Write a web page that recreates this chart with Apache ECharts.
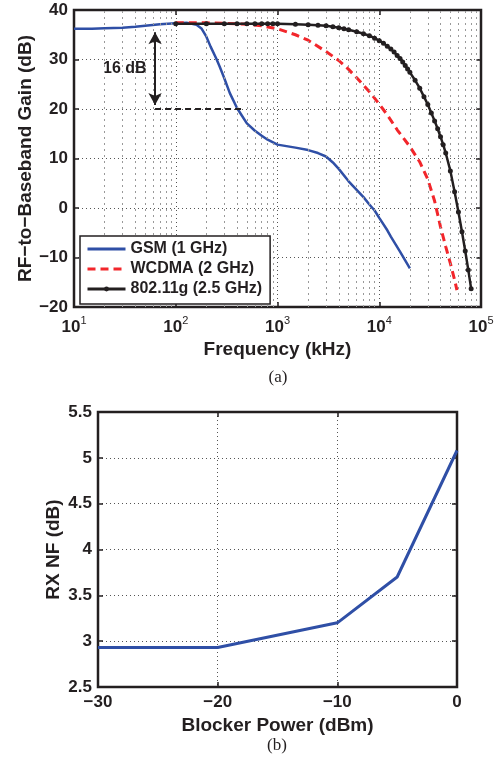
<!DOCTYPE html>
<html>
<head>
<meta charset="utf-8">
<script src="https://cdn.jsdelivr.net/npm/echarts@6/dist/echarts.min.js"></script>
<style>
html, body { margin: 0; padding: 0; background: #fff; }
#chart { width: 497px; height: 758px; }
</style>
</head>
<body>
<div id="chart"></div>
<script>
// (a) RF-to-baseband gain, frequency in kHz, gain in dB
var gsmFreq = [10, 15, 20, 30, 40, 50, 70, 100, 130, 160, 180, 200, 220, 250, 270, 300, 340, 400, 430, 500, 600, 700, 800, 1000, 1500, 2000, 2500, 3000, 3500, 4000, 5000, 7000, 8000, 9000, 10000, 12000, 13000, 16000, 20000];
var gsmGain = [36.2, 36.2, 36.3, 36.4, 36.6, 36.8, 37.1, 37.3, 37.4, 37.0, 36.2, 34.6, 32.6, 30.2, 28.6, 26.2, 23.2, 20.2, 19.2, 17.1, 15.6, 14.6, 13.8, 12.8, 12.2, 11.7, 11.1, 10.4, 9.2, 7.9, 5.4, 2.2, 0.7, -0.5, -2.0, -4.5, -5.8, -8.8, -12.2];

var wcdmaFreq = [100, 150, 200, 300, 500, 700, 1000, 1500, 2000, 3000, 4000, 5000, 6000, 8000, 10000, 12000, 15000, 20000, 25000, 30000, 35000, 40000, 45000, 50000, 55000, 58000];
var wcdmaGain = [37.4, 37.4, 37.4, 37.3, 37.1, 36.8, 36.2, 35.0, 33.9, 31.6, 29.8, 28.0, 26.3, 23.5, 21.0, 18.8, 15.8, 12.4, 9.3, 5.8, 1.4, -3.8, -7.8, -11.2, -14.5, -16.6];

var wlanFreq = [100, 200, 300, 400, 500, 600, 700, 800, 900, 1000, 1500, 2000, 2500, 3000, 3500, 4000, 4500, 5000, 6000, 7000, 8000, 9000, 10000, 11000, 12000, 13000, 14000, 15000, 16000, 17000, 18000, 19000, 20000, 22500, 25000, 27500, 30000, 32500, 35000, 37500, 40000, 42500, 45000, 50000, 55000, 60000, 65000, 70000, 75000, 80000];
var wlanGain = [37.2, 37.2, 37.2, 37.2, 37.2, 37.2, 37.2, 37.2, 37.2, 37.2, 37.1, 37.0, 36.9, 36.8, 36.6, 36.4, 36.2, 36.0, 35.6, 35.2, 34.8, 34.3, 33.8, 33.3, 32.7, 32.1, 31.5, 30.8, 30.2, 29.5, 28.8, 28.1, 27.4, 25.8, 24.2, 22.5, 20.9, 19.2, 17.6, 16.0, 14.4, 12.8, 11.1, 7.5, 3.3, -0.8, -4.8, -8.7, -12.5, -16.3];

// (b) receiver noise figure vs blocker power
var blockerPower = [-30, -20, -10, -5, 0];
var rxNF = [2.93, 2.93, 3.2, 3.7, 5.08];

var seriesNames = ['GSM (1 GHz)', 'WCDMA (2 GHz)', '802.11g (2.5 GHz)'];

var ink = '#231f20';
var font = 'Liberation Sans, Arial, sans-serif';

function pairs(xs, ys) {
    return xs.map(function (x, i) { return [x, ys[i]]; });
}
function minus(v) {
    return String(v).replace('-', '\u2212');
}

// minor log grid at 2..9 x 10^k
var minorGrid = [];
for (var k = 1; k < 5; k++) {
    for (var m = 2; m < 10; m++) {
        minorGrid.push({ xAxis: m * Math.pow(10, k) });
    }
}

var tickStyle = { inside: true, length: 5, lineStyle: { color: ink, width: 1.5 } };
var noLine = { show: false, onZero: false };
var boldLabel = { color: ink, fontFamily: font, fontWeight: 'bold', fontSize: 17 };
var nameStyle = { color: ink, fontFamily: font, fontWeight: 'bold', fontSize: 19 };
var dotGrid = { show: true, lineStyle: { color: '#555', type: [1, 3], width: 1 } };

var chart = echarts.init(document.getElementById('chart'));

var option = {
    animation: false,
    backgroundColor: '#fff',
    grid: [
        { left: 74, top: 10, width: 407, height: 297, show: true, borderColor: ink, borderWidth: 2.5, z: 3 },
        { left: 98, top: 412, width: 359, height: 275, show: true, borderColor: ink, borderWidth: 2.5, z: 3 }
    ],
    legend: {
        data: [
            { name: seriesNames[0], itemStyle: { opacity: 0 }, lineStyle: { width: 3 } },
            { name: seriesNames[1], itemStyle: { opacity: 0 }, lineStyle: { width: 3 } },
            { name: seriesNames[2], lineStyle: { width: 3 } }
        ],
        orient: 'vertical',
        left: 80,
        top: 236,
        padding: [5, 8, 7, 6],
        itemGap: 4,
        itemWidth: 38,
        itemHeight: 6,
        backgroundColor: '#fff',
        borderColor: ink,
        borderWidth: 1.5,
        borderRadius: 0,
        z: 10,
        textStyle: { color: ink, fontFamily: font, fontWeight: 'bold', fontSize: 16 }
    },
    xAxis: [
        {
            gridIndex: 0, type: 'log', logBase: 10, min: 10, max: 100000, splitNumber: 4,
            axisLine: noLine,
            axisTick: tickStyle,
            axisLabel: {
                margin: 8,
                formatter: function (v) {
                    return '{b|10}{s|' + Math.round(Math.log10(v)) + '}';
                },
                rich: {
                    b: boldLabel,
                    s: { color: ink, fontFamily: font, fontSize: 11, padding: [0, 0, 13, 0] }
                }
            },
            splitLine: dotGrid,
            name: 'Frequency (kHz)', nameLocation: 'middle', nameGap: 33, nameMoveOverlap: false, nameTextStyle: nameStyle
        },
        {
            gridIndex: 0, type: 'log', logBase: 10, min: 10, max: 100000, splitNumber: 4, position: 'top',
            axisLine: noLine, axisTick: tickStyle, axisLabel: { show: false }, splitLine: { show: false }
        },
        {
            gridIndex: 1, type: 'value', min: -30, max: 0, interval: 10,
            axisLine: noLine,
            axisTick: tickStyle,
            axisLabel: Object.assign({ margin: 7, formatter: minus }, boldLabel),
            splitLine: dotGrid,
            name: 'Blocker Power (dBm)', nameLocation: 'middle', nameGap: 29, nameMoveOverlap: false, nameTextStyle: nameStyle
        },
        {
            gridIndex: 1, type: 'value', min: -30, max: 0, interval: 10, position: 'top',
            axisLine: noLine, axisTick: tickStyle, axisLabel: { show: false }, splitLine: { show: false }
        }
    ],
    yAxis: [
        {
            gridIndex: 0, type: 'value', min: -20, max: 40, interval: 10,
            axisLine: noLine,
            axisTick: tickStyle,
            axisLabel: Object.assign({ margin: 6, formatter: minus }, boldLabel),
            splitLine: dotGrid,
            name: 'RF\u2212to\u2212Baseband Gain (dB)', nameLocation: 'middle', nameGap: 39, nameMoveOverlap: false, nameTextStyle: nameStyle
        },
        {
            gridIndex: 0, type: 'value', min: -20, max: 40, interval: 10, position: 'right',
            axisLine: noLine, axisTick: tickStyle, axisLabel: { show: false }, splitLine: { show: false }
        },
        {
            gridIndex: 1, type: 'value', min: 2.5, max: 5.5, interval: 0.5,
            axisLine: noLine,
            axisTick: tickStyle,
            axisLabel: Object.assign({ margin: 6 }, boldLabel),
            splitLine: dotGrid,
            name: 'RX NF (dB)', nameLocation: 'middle', nameGap: 35, nameMoveOverlap: false, nameTextStyle: nameStyle
        },
        {
            gridIndex: 1, type: 'value', min: 2.5, max: 5.5, interval: 0.5, position: 'right',
            axisLine: noLine, axisTick: tickStyle, axisLabel: { show: false }, splitLine: { show: false }
        }
    ],
    graphic: [
        { type: 'text', x: 103, y: 61, style: { text: '16 dB', fill: ink, font: 'bold 16px ' + font } },
        { type: 'text', x: 278, y: 378, style: { text: '(a)', fill: ink, align: 'center', verticalAlign: 'middle', font: '17px "Liberation Serif", serif' } },
        { type: 'text', x: 277, y: 746, style: { text: '(b)', fill: ink, align: 'center', verticalAlign: 'middle', font: '17px "Liberation Serif", serif' } }
    ],
    series: [
        {
            // minor vertical grid of the log axis
            name: 'minor-grid', type: 'line', xAxisIndex: 0, yAxisIndex: 0, data: [], z: 1,
            markLine: {
                silent: true, symbol: 'none', animation: false,
                label: { show: false },
                lineStyle: { color: '#999', type: [2, 4], width: 1 },
                data: minorGrid
            }
        },
        {
            name: seriesNames[0], type: 'line', xAxisIndex: 0, yAxisIndex: 0,
            data: pairs(gsmFreq, gsmGain),
            symbol: 'none', z: 4,
            lineStyle: { color: '#2f4fa6', width: 2.5 },
            itemStyle: { color: '#2f4fa6' }
        },
        {
            name: seriesNames[1], type: 'line', xAxisIndex: 0, yAxisIndex: 0,
            data: pairs(wcdmaFreq, wcdmaGain),
            symbol: 'none', z: 4,
            lineStyle: { color: '#f2262b', width: 3, type: [8, 5] },
            itemStyle: { color: '#f2262b' }
        },
        {
            name: seriesNames[2], type: 'line', xAxisIndex: 0, yAxisIndex: 0,
            data: pairs(wlanFreq, wlanGain),
            symbol: 'circle', symbolSize: 5, showAllSymbol: true, z: 5,
            lineStyle: { color: ink, width: 2.5 },
            itemStyle: { color: ink }
        },
        {
            // 16 dB annotation
            name: 'arrow', type: 'line', xAxisIndex: 0, yAxisIndex: 0, data: [], z: 6,
            markLine: {
                silent: true, animation: false,
                symbol: ['arrow', 'arrow'], symbolSize: [10, 12],
                label: { show: false },
                lineStyle: { color: ink, type: 'solid', width: 2 },
                data: [[{ coord: [62.6, 35.5] }, { coord: [62.6, 20.8] }]]
            }
        },
        {
            name: 'ref-level', type: 'line', xAxisIndex: 0, yAxisIndex: 0, data: [], z: 6,
            markLine: {
                silent: true, animation: false, symbol: 'none',
                label: { show: false },
                lineStyle: { color: ink, type: [6, 4], width: 2 },
                data: [[{ coord: [62.6, 20] }, { coord: [450, 20] }]]
            }
        },
        {
            name: 'RX NF', type: 'line', xAxisIndex: 2, yAxisIndex: 2,
            data: pairs(blockerPower, rxNF),
            symbol: 'none', z: 4,
            lineStyle: { color: '#2f4fa6', width: 3 }
        }
    ]
};

chart.setOption(option);
</script>
</body>
</html>
